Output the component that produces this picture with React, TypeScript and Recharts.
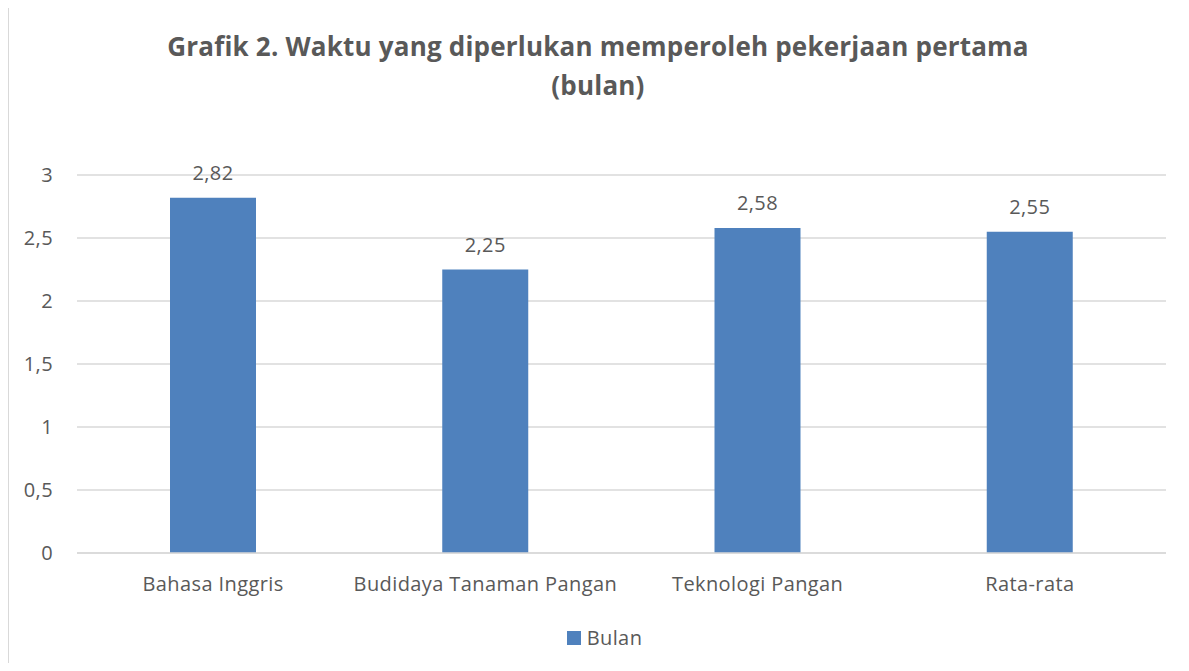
import React from "react";
import { Bar, BarChart, CartesianGrid, LabelList, Legend, XAxis, YAxis } from "recharts";

const categories = ["Bahasa Inggris", "Budidaya Tanaman Pangan", "Teknologi Pangan", "Rata-rata"];
const bulanValues = [2.82, 2.25, 2.58, 2.55];
const yTicks = [0, 0.5, 1, 1.5, 2, 2.5, 3];
const titleLines = ["Grafik 2. Waktu yang diperlukan memperoleh pekerjaan pertama", "(bulan)"];
const seriesName = "Bulan";

const data = categories.map((name, i) => ({ name, bulan: bulanValues[i] }));

const textColor = "#595959";
const gridColor = "#d9d9d9";
const barColor = "#4f81bd";
const font = "'Open Sans', sans-serif";
const tickFont = { fill: textColor, fontSize: 20, fontFamily: font, letterSpacing: 0.4 };

const comma = (v: number | string) => String(v).replace(".", ",");

function LegendContent() {
  return (
    <div
      style={{
        display: "flex",
        justifyContent: "center",
        alignItems: "center",
        gap: 6,
        fontFamily: font,
        fontSize: 20,
        letterSpacing: 0.4,
        color: textColor
      }}
    >
      <span style={{ width: 14, height: 14, background: barColor, display: "inline-block" }} />
      <span>{seriesName}</span>
    </div>
  );
}

export default function App() {
  return (
    <div style={{ margin: -8, position: "relative", width: 1189, height: 671, background: "#fff", overflow: "hidden" }}>
      <div
        style={{
          position: "absolute",
          left: 7,
          top: 4,
          width: 1200,
          height: 700,
          borderLeft: `2px solid ${gridColor}`,
          borderTop: `2px solid ${gridColor}`
        }}
      />
      <div
        style={{
          position: "absolute",
          left: 7,
          top: 27,
          width: 1182,
          textAlign: "center",
          fontFamily: font,
          fontWeight: 700,
          fontSize: 26,
          letterSpacing: 0.2,
          lineHeight: "39px",
          color: textColor
        }}
      >
        {titleLines.map((line) => (
          <div key={line}>{line}</div>
        ))}
      </div>
      <div style={{ position: "absolute", left: 0, top: 0 }}>
        <BarChart
          width={1189}
          height={671}
          data={data}
          margin={{ top: 175, right: 23, bottom: 0, left: 0 }}
          barCategoryGap={0}
        >
          <CartesianGrid stroke={gridColor} strokeWidth={1.5} vertical={false} />
          <XAxis
            dataKey="name"
            height={118}
            tickLine={false}
            tickSize={0}
            tickMargin={24}
            axisLine={{ stroke: gridColor, strokeWidth: 1.5 }}
            tick={tickFont}
            interval={0}
          />
          <YAxis
            width={77}
            domain={[0, 3]}
            ticks={yTicks}
            tickFormatter={comma}
            axisLine={false}
            tickLine={false}
            tickSize={0}
            tickMargin={24}
            tick={tickFont}
          />
          <Legend
            verticalAlign="middle"
            wrapperStyle={{ top: 624, left: 10, width: 1189 }}
            content={<LegendContent />}
          />
          <Bar dataKey="bulan" name={seriesName} fill={barColor} barSize={86} isAnimationActive={false}>
            <LabelList
              dataKey="bulan"
              position="top"
              offset={18}
              formatter={(v: number) => comma(v)}
              style={tickFont}
            />
          </Bar>
        </BarChart>
      </div>
    </div>
  );
}
